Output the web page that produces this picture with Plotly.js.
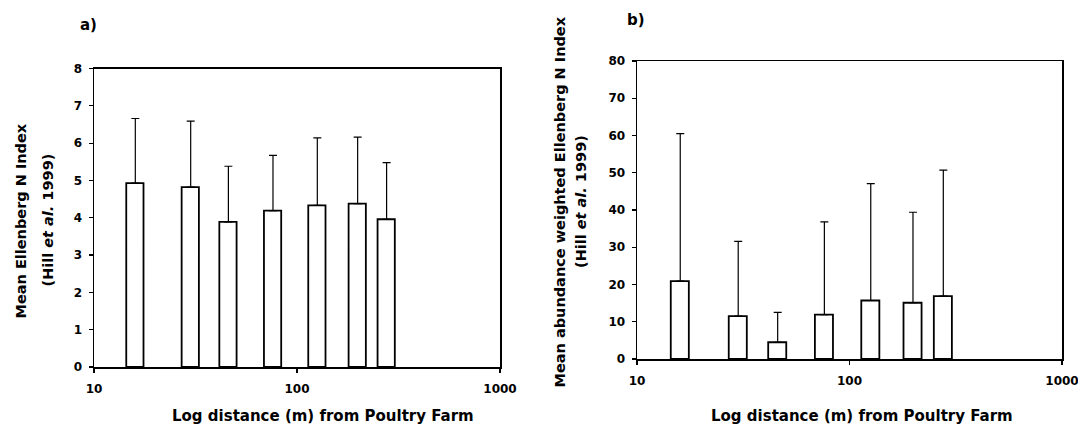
<!DOCTYPE html>
<html>
<head>
<meta charset="utf-8">
<script src="https://cdn.plot.ly/plotly-3.0.1.min.js"></script>
<style>
html,body{margin:0;padding:0;background:#fff;}
#chart{width:1078px;height:428px;}
</style>
</head>
<body>
<div id="chart"></div>
<script>
// distances from the poultry farm (m)
const distances = [15.9, 29.8, 45.7, 75.8, 125.3, 198, 275];
// panel a: mean Ellenberg N index and upper SD
const meanN = [4.93, 4.82, 3.89, 4.19, 4.33, 4.38, 3.96];
const meanNErr = [1.73, 1.77, 1.49, 1.48, 1.81, 1.78, 1.52];
// panel b: mean abundance weighted Ellenberg N index and upper SD
const weightedN = [20.9, 11.5, 4.5, 11.9, 15.7, 15.1, 16.9];
const weightedNErr = [39.6, 20.1, 8.0, 24.9, 31.4, 24.3, 33.8];
// tick labels
const xTickVals = [10, 100, 1000];
const xTickText = ['10', '100', '1000'];
const yTicksA = [0, 1, 2, 3, 4, 5, 6, 7, 8];
const yTicksB = [0, 10, 20, 30, 40, 50, 60, 70, 80];

const FONT = 'DejaVu Sans, Arial, sans-serif';
const HALF = 0.0425; // bar half-width in decades
const lo = Math.pow(10, -HALF), hi = Math.pow(10, HALF);
const barX = distances.map(d => d * (lo + hi) / 2);
const barW = distances.map(d => d * (hi - lo));

function barTrace(y, err, xa, ya) {
  return {
    type: 'bar', x: barX, y: y, width: barW,
    xaxis: xa, yaxis: ya,
    marker: {color: '#ffffff', line: {color: '#000000', width: 1.8}},
    error_y: {type: 'data', array: err, symmetric: false,
      arrayminus: err.map(() => 0), color: '#000000', thickness: 1.2, width: 4},
    hoverinfo: 'skip', showlegend: false
  };
}

const W = 1078, H = 428;
const px = v => v / W, py = v => 1 - v / H;

function xAxis(dom, anchor) {
  return {
    type: 'log', range: [1, 3], domain: dom, anchor: anchor,
    tickmode: 'array', tickvals: xTickVals, ticktext: xTickText,
    showline: true, mirror: true, linecolor: '#000', linewidth: 1.5,
    ticks: 'outside', ticklen: 4, tickwidth: 1.2, tickcolor: '#000',
    showgrid: false, zeroline: false, ticklabelstandoff: 6,
    ticklabeloverflow: 'allow',
    tickfont: {family: FONT, size: 12, color: '#000', weight: 'bold'}
  };
}
function yAxis(dom, anchor, range, vals) {
  return {
    range: range, domain: dom, anchor: anchor,
    tickmode: 'array', tickvals: vals, ticktext: vals.map(String),
    showline: true, mirror: true, linecolor: '#000', linewidth: 1.5,
    ticks: 'outside', ticklen: 4, tickwidth: 1.2, tickcolor: '#000',
    showgrid: false, zeroline: false, ticklabelstandoff: 4,
    tickfont: {family: FONT, size: 12, color: '#000', weight: 'bold'}
  };
}

function ann(text, x, y, size, angle) {
  return {text: text, x: px(x), y: py(y), xref: 'paper', yref: 'paper',
    xanchor: 'center', yanchor: 'middle', showarrow: false, textangle: angle || 0,
    font: {family: FONT, size: size, color: '#000', weight: 'bold'}};
}

const layout = {
  width: W, height: H,
  margin: {l: 0, r: 0, t: 0, b: 0},
  paper_bgcolor: '#fff', plot_bgcolor: '#fff',
  showlegend: false, hovermode: false,
  xaxis: xAxis([px(94), px(500)], 'y'),
  yaxis: yAxis([py(367), py(68.5)], 'x', [0, 8], yTicksA),
  xaxis2: xAxis([px(637), px(1062)], 'y2'),
  yaxis2: yAxis([py(359), py(61)], 'x2', [0, 80], yTicksB),
  annotations: [
    ann('a)', 88, 25, 15),
    ann('b)', 636, 20, 15),
    ann('Log distance (m) from Poultry Farm', 323, 416, 15),
    ann('Log distance (m) from Poultry Farm', 862, 416, 15),
    ann('Mean Ellenberg N Index', 20.5, 221, 14.5, -90),
    ann('(Hill <i>et al.</i> 1999)', 47.5, 220, 14.5, -90),
    ann('Mean abundance weighted Ellenberg N Index', 559, 202.5, 14.5, -90),
    ann('(Hill <i>et al.</i> 1999)', 581, 202, 14.5, -90)
  ]
};

Plotly.newPlot('chart', [
  barTrace(meanN, meanNErr, 'x', 'y'),
  barTrace(weightedN, weightedNErr, 'x2', 'y2')
], layout, {displayModeBar: false, staticPlot: true});
</script>
</body>
</html>
